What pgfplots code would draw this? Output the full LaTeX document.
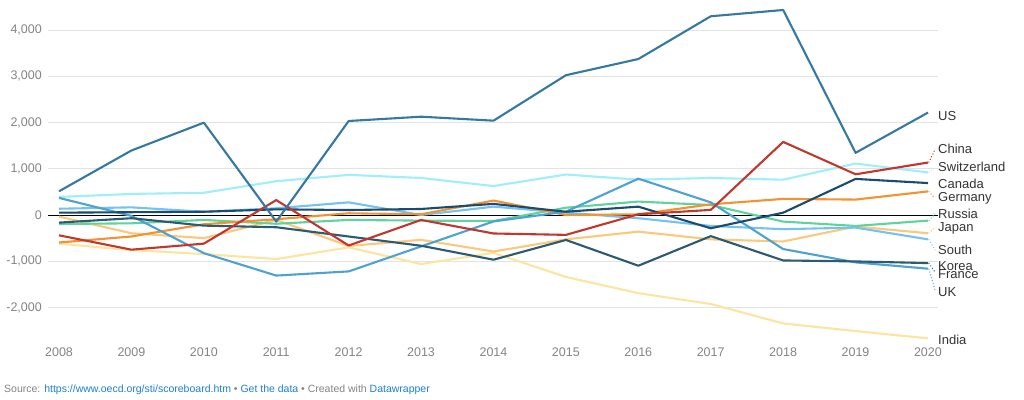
\documentclass[border=0pt]{standalone}
\usepackage{fontspec}
\setmainfont{Liberation Sans}
\usepackage{pgfplots}
\pgfplotsset{compat=1.18}
\definecolor{cUS}{HTML}{3579A0}
\definecolor{cUK}{HTML}{4DA2D0}
\definecolor{cFR}{HTML}{2B5A72}
\definecolor{cCA}{HTML}{1B4B70}
\definecolor{cCN}{HTML}{C1372D}
\definecolor{cCH}{HTML}{9EEEFC}
\definecolor{cDE}{HTML}{F39231}
\definecolor{cRU}{HTML}{5FD39C}
\definecolor{cJP}{HTML}{FBC87C}
\definecolor{cKR}{HTML}{73C2F3}
\definecolor{cIN}{HTML}{FDE5A0}
\definecolor{tickgray}{HTML}{858585}
\definecolor{gridgray}{HTML}{E3E3E3}
\definecolor{labgray}{HTML}{333333}
\definecolor{linkblue}{HTML}{1D81D4}
\tikzset{lab/.style={anchor=west, inner sep=0pt, text height=9pt, text depth=0pt, font=\fontsize{13}{15}\selectfont, text=labgray}}
\begin{document}
\begin{tikzpicture}
\useasboundingbox[fill=white] (0pt,0pt) rectangle (1024pt,399pt);
\begin{axis}[
  at={(48pt,54pt)}, anchor=south west, scale only axis,
  width=890pt, height=340pt,
  xmin=2007.848, xmax=2020.138, ymin=-2811, ymax=4540,
  clip=false,
  axis line style={draw=none},
  tick style={draw=none},
  xtick={2008,...,2020},
  ytick={-2000,-1000,0,1000,2000,3000,4000},
  ymajorgrids,
  grid style={gridgray, line width=0.9pt},
  /pgf/number format/assume math mode=true,
  x tick label style={/pgf/number format/1000 sep={}, font=\fontsize{12.5}{14}\selectfont, text=tickgray, anchor=north, inner sep=0pt, yshift=-3pt},
  y tick label style={/pgf/number format/1000 sep={,}, font=\fontsize{12.5}{14}\selectfont, text=tickgray, anchor=east, inner sep=0pt, xshift=-6pt},
  every axis plot/.append style={line width=2.1pt, line join=round, mark=none},
]
% zero line
\addplot[black, line width=0.9pt] coordinates {(2007.848,0) (2020.138,0)};

\addplot[cIN] coordinates {(2008,-620) (2009,-760) (2010,-845) (2011,-953) (2012,-700) (2013,-1060) (2014,-820) (2015,-1340) (2016,-1690) (2017,-1925) (2018,-2345) (2019,-2510) (2020,-2667)};
\addplot[cJP] coordinates {(2008,-35) (2009,-395) (2010,-500) (2011,-107) (2012,-670) (2013,-537) (2014,-790) (2015,-527) (2016,-360) (2017,-527) (2018,-573) (2019,-250) (2020,-395)};
\addplot[cCH] coordinates {(2008,390) (2009,455) (2010,480) (2011,730) (2012,867) (2013,800) (2014,625) (2015,875) (2016,763) (2017,800) (2018,763) (2019,1112) (2020,920)};
\addplot[cRU] coordinates {(2008,-195) (2009,-180) (2010,-107) (2011,-190) (2012,-107) (2013,-122) (2014,-130) (2015,157) (2016,290) (2017,215) (2018,-143) (2019,-237) (2020,-122)};
\addplot[cKR] coordinates {(2008,135) (2009,165) (2010,70) (2011,145) (2012,273) (2013,0) (2014,180) (2015,50) (2016,-70) (2017,-237) (2018,-307) (2019,-273) (2020,-527)};
\addplot[cDE] coordinates {(2008,-595) (2009,-465) (2010,-200) (2011,-92) (2012,37) (2013,15) (2014,312) (2015,0) (2016,15) (2017,230) (2018,348) (2019,333) (2020,510)};
\addplot[cUK] coordinates {(2008,370) (2009,-20) (2010,-825) (2011,-1310) (2012,-1220) (2013,-680) (2014,-140) (2015,72) (2016,785) (2017,273) (2018,-737) (2019,-1025) (2020,-1161)};
\addplot[cFR] coordinates {(2008,-165) (2009,-70) (2010,-230) (2011,-265) (2012,-465) (2013,-665) (2014,-967) (2015,-540) (2016,-1097) (2017,-457) (2018,-983) (2019,-1004) (2020,-1040)};
\addplot[cCA] coordinates {(2008,50) (2009,60) (2010,70) (2011,122) (2012,107) (2013,130) (2014,240) (2015,70) (2016,180) (2017,-287) (2018,50) (2019,780) (2020,690)};
\addplot[cCN] coordinates {(2008,-440) (2009,-750) (2010,-620) (2011,322) (2012,-660) (2013,-107) (2014,-400) (2015,-430) (2016,15) (2017,110) (2018,1580) (2019,880) (2020,1134)};
\addplot[cUS] coordinates {(2008,512) (2009,1394) (2010,1996) (2011,-143) (2012,2032) (2013,2125) (2014,2039) (2015,3022) (2016,3372) (2017,4296) (2018,4432) (2019,1344) (2020,2214)};

% dotted connectors
\addplot[cCN, line width=1pt, dotted] coordinates {(2020.01,1134) (2020.1,1427)};
\addplot[cCH, line width=1pt, dotted] coordinates {(2020.01,920) (2020.1,1038)};
\addplot[cDE, line width=1pt, dotted] coordinates {(2020.01,510) (2020.08,389)};
\addplot[cRU, line width=1pt, dotted] coordinates {(2020.01,-122) (2020.1,28)};
\addplot[cJP, line width=1pt, dotted] coordinates {(2020.01,-395) (2020.1,-260)};
\addplot[cKR, line width=1pt, dotted] coordinates {(2020.01,-527) (2020.1,-757)};
\addplot[cFR, line width=1pt, dotted] coordinates {(2020.01,-1040) (2020.1,-1240)};
\addplot[cUK, line width=1pt, dotted] coordinates {(2020.01,-1161) (2020.1,-1640)};

\node[lab] at (axis cs:2020.138,2147) {US};
\node[lab] at (axis cs:2020.138,1427) {China};
\node[lab] at (axis cs:2020.138,1038) {Switzerland};
\node[lab] at (axis cs:2020.138,670) {Canada};
\node[lab] at (axis cs:2020.138,389) {Germany};
\node[lab] at (axis cs:2020.138,28) {Russia};
\node[lab] at (axis cs:2020.138,-260) {Japan};
\node[lab] at (axis cs:2020.138,-757) {South};
\node[lab] at (axis cs:2020.138,-1103) {Korea};
\node[lab] at (axis cs:2020.138,-1276) {France};
\node[lab] at (axis cs:2020.138,-1671) {UK};
\node[lab] at (axis cs:2020.138,-2697) {India};
\end{axis}
\node[anchor=base west, inner sep=0pt, font=\fontsize{10.5}{12}\selectfont, text=tickgray] at (4pt,7pt)
  {Source: \textcolor{linkblue}{https://www.oecd.org/sti/scoreboard.htm} • \textcolor{linkblue}{Get the data} • Created with \textcolor{linkblue}{Datawrapper}};
\end{tikzpicture}
\end{document}
